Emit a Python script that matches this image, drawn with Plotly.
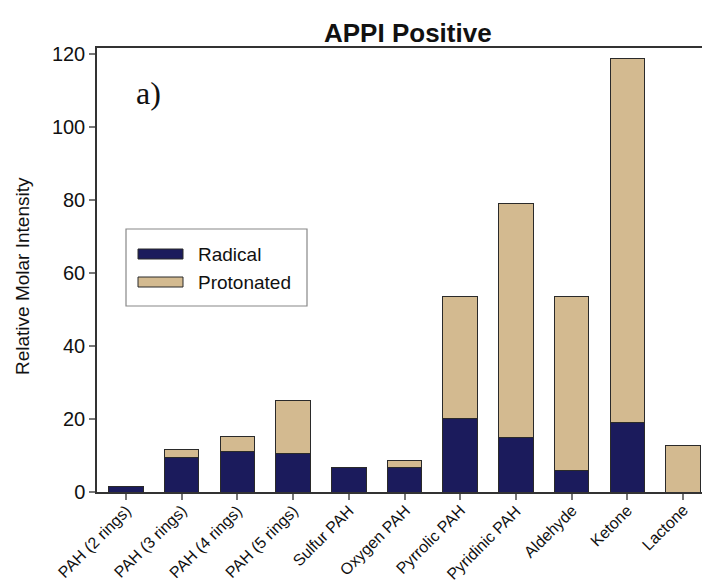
import plotly.graph_objects as go

# Compound classes on the x axis
categories = [
    "PAH (2 rings)", "PAH (3 rings)", "PAH (4 rings)", "PAH (5 rings)",
    "Sulfur PAH", "Oxygen PAH", "Pyrrolic PAH", "Pyridinic PAH",
    "Aldehyde", "Ketone", "Lactone",
]

# Relative molar intensity of each ion type (stacked)
radical = [1.6, 9.4, 11.2, 10.6, 6.8, 6.6, 20.2, 15.0, 6.0, 19.0, 0.0]
protonated = [0.0, 2.3, 4.0, 14.4, 0.0, 2.1, 33.3, 64.0, 47.5, 99.8, 12.7]

y_ticks = [0, 20, 40, 60, 80, 100, 120]

NAVY = "#1b1b5c"
TAN = "#d3ba90"
EDGE = "#2a2a2a"
FONT = "Liberation Sans, Arial, sans-serif"

W, H = 702, 588
ML, MR, MT, MB = 97, 0, 48, 96
pw, ph = W - ML - MR, H - MT - MB


def px_to_paper(x, y):
    return (x - ML) / pw, (H - MB - y) / ph


positions = list(range(len(categories)))

fig = go.Figure()
fig.add_trace(go.Bar(
    x=positions, y=radical, name="Radical",
    marker=dict(color=NAVY, line=dict(color=EDGE, width=1)), width=0.62,
))
fig.add_trace(go.Bar(
    x=positions, y=protonated, name="Protonated",
    marker=dict(color=TAN, line=dict(color=EDGE, width=1)), width=0.62,
))

fig.update_layout(
    barmode="stack",
    width=W, height=H,
    margin=dict(l=ML, r=MR, t=MT, b=MB),
    paper_bgcolor="white", plot_bgcolor="white",
    showlegend=False,
    font=dict(family=FONT, color="#111111"),
)

fig.update_xaxes(
    range=[-0.52, 10.34],
    tickmode="array",
    tickvals=positions,
    showticklabels=False,
    ticks="outside", ticklen=6, tickcolor="#777777", tickwidth=1.5,
    showline=True, linecolor="#333333", linewidth=1.5, mirror=True,
    showgrid=False, zeroline=False,
)
fig.update_yaxes(
    range=[0, 121.7],
    tickmode="array", tickvals=y_ticks,
    tickfont=dict(size=20, family=FONT, color="#111111"),
    ticks="outside", ticklen=6, tickcolor="#777777", tickwidth=1.5,
    showline=True, linecolor="#333333", linewidth=1.5,
    showgrid=False, zeroline=False,
)

annotations = []
# Slanted category labels hanging from each tick
for pos, label in zip(positions, categories):
    annotations.append(dict(
        text=label, x=pos, y=0, xref="x", yref="paper",
        xanchor="right", yanchor="top", textangle=-45,
        xshift=11, yshift=-7, showarrow=False,
        font=dict(size=16, family=FONT, color="#111111"),
    ))
# Chart title
tx, ty = px_to_paper(408, 33)
annotations.append(dict(
    text="<b>APPI Positive</b>", x=tx, y=ty, xref="paper", yref="paper",
    xanchor="center", yanchor="middle", showarrow=False,
    font=dict(size=26, family=FONT, color="#111111"),
))
# Y axis title
ax, ay = px_to_paper(22, 276)
annotations.append(dict(
    text="Relative Molar Intensity", x=ax, y=ay, xref="paper", yref="paper",
    xanchor="center", yanchor="middle", textangle=-90, showarrow=False,
    font=dict(size=19, family=FONT, color="#111111"),
))
# Panel label
lx, ly = px_to_paper(134, 93)
annotations.append(dict(
    text="a)", x=lx, y=ly, xref="paper", yref="paper",
    xanchor="left", yanchor="middle", showarrow=False,
    font=dict(size=32, family="Liberation Serif, Times New Roman, serif", color="#111111"),
))

# Legend box with wide swatches
shapes = []
bx0, by0 = px_to_paper(126, 229)
bx1, by1 = px_to_paper(307, 306)
shapes.append(dict(type="rect", xref="paper", yref="paper",
                   x0=bx0, y0=by1, x1=bx1, y1=by0,
                   line=dict(color="#888888", width=1.2), fillcolor="white"))
for name, color, yc in [("Radical", NAVY, 254), ("Protonated", TAN, 282)]:
    sx0, sy0 = px_to_paper(138, yc - 5)
    sx1, sy1 = px_to_paper(183, yc + 5)
    shapes.append(dict(type="rect", xref="paper", yref="paper",
                       x0=sx0, y0=sy1, x1=sx1, y1=sy0,
                       line=dict(color=EDGE, width=1), fillcolor=color))
    txx, tyy = px_to_paper(196, yc)
    annotations.append(dict(
        text=name, x=txx, y=tyy, xref="paper", yref="paper",
        xanchor="left", yanchor="middle", showarrow=False,
        font=dict(size=19, family=FONT, color="#111111"),
    ))

fig.update_layout(annotations=annotations, shapes=shapes)

fig.write_html("out.html")
